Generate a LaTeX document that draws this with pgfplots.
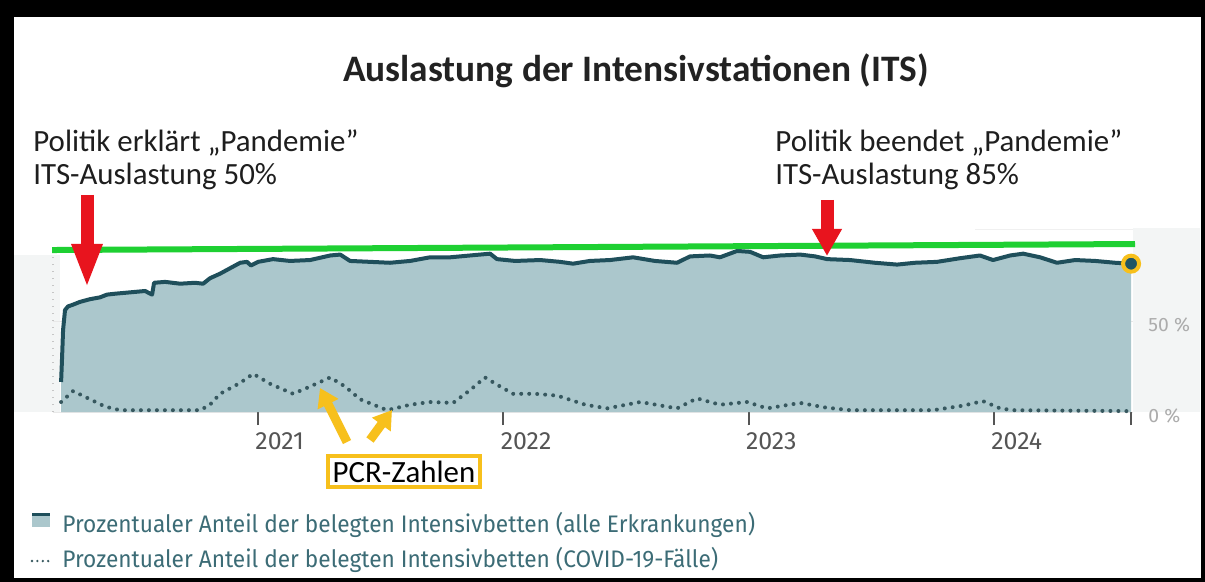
\documentclass[border=0pt]{standalone}
\usepackage{pgfplots}
\pgfplotsset{compat=1.18}
\usepackage{pgfplotstable}
\usepackage{graphicx}
\usetikzlibrary{arrows.meta}
\usepackage{fontspec}
\setmainfont{Carlito}
\newfontfamily\fira{Fira Sans}
\definecolor{areafill}{RGB}{171,199,204}
\definecolor{linecol}{RGB}{31,79,91}
\definecolor{dotcol}{RGB}{55,88,95}
\definecolor{greencol}{RGB}{30,208,50}
\definecolor{redcol}{RGB}{232,20,30}
\definecolor{yellowcol}{RGB}{247,192,28}
\definecolor{legtext}{RGB}{60,108,118}
\definecolor{xtickcol}{RGB}{85,85,85}
\definecolor{ytickcol}{RGB}{172,172,172}
\definecolor{bgcol}{RGB}{243,245,245}
\definecolor{enddot}{RGB}{31,85,101}

\pgfplotstableread{
x y
2020.197 16.5
2020.201 30
2020.205 45
2020.213 56
2020.225 58
2020.246 59
2020.274 60.5
2020.315 62
2020.356 63
2020.384 64.5
2020.417 65
2020.458 65.5
2020.499 66
2020.540 66.5
2020.560 65
2020.568 64.5
2020.576 71
2020.621 71.5
2020.682 70.5
2020.743 71
2020.776 70.5
2020.804 73.5
2020.845 76
2020.886 79
2020.927 82
2020.955 82.5
2020.971 80.5
2021.000 82.5
2021.061 84
2021.130 83
2021.212 83.5
2021.294 86
2021.335 86.5
2021.375 83
2021.457 82.5
2021.538 82
2021.620 83
2021.701 85
2021.783 85
2021.864 86
2021.946 87
2021.974 84
2022.048 83
2022.150 83.5
2022.231 82.5
2022.284 81.5
2022.353 83
2022.435 83.5
2022.529 85
2022.618 83
2022.708 82
2022.761 85.5
2022.842 86
2022.883 85
2022.953 88.5
2023.006 88
2023.059 85
2023.128 86
2023.210 86.5
2023.271 85.5
2023.320 84
2023.413 83.5
2023.515 82
2023.605 81
2023.678 82
2023.768 82.5
2023.862 84.5
2023.943 86
2023.996 83.5
2024.066 86
2024.119 87
2024.188 85
2024.257 82
2024.331 83.5
2024.413 83
2024.494 82
2024.559 81.5
}\alltab

\pgfplotstableread{
x y
2020.197 5.5
2020.246 11.5
2020.315 7
2020.376 3
2020.437 1
2020.764 1
2020.804 4
2020.845 10
2020.927 16
2020.980 21
2021.049 15.5
2021.143 10
2021.212 14
2021.294 19
2021.355 14
2021.416 7
2021.526 1
2021.620 4
2021.701 5.5
2021.795 5
2021.864 12
2021.925 19
2021.987 14
2022.040 10
2022.130 10
2022.220 9
2022.334 4
2022.423 2
2022.558 5.5
2022.708 2
2022.789 7.5
2022.883 4
2022.993 5.5
2023.075 2
2023.210 5
2023.312 2.5
2023.413 1
2023.752 1
2023.874 3.5
2023.955 6
2024.025 2
2024.078 1
2024.555 0.5
}\covtab

\begin{document}
\begin{tikzpicture}
\begin{scope}[x=0.5bp,y=-0.5bp]
\fill[black] (0,0) rectangle (1205,582);
\fill[white] (14,17) rectangle (1201,578);
\fill[bgcol] (14,255) rectangle (60,412);
\fill[bgcol] (1133,228) rectangle (1200,412);
\draw[gray!12, line width=0.5bp] (975,229) -- (1133,229);
\end{scope}
\begin{axis}[
  at={(26.5bp,-206bp)}, anchor=south west,
  scale only axis, width=540bp, height=91bp,
  xmin=2020.164, xmax=2024.567, ymin=0, ymax=100,
  clip=false,
  axis line style={draw=none},
  axis x line*=bottom, axis y line*=right,
  xtick={2021,2022,2023,2024},
  xticklabels={2021,2022,2023,2024},
  extra x ticks={2024.559}, extra x tick labels={},
  tick align=outside,
  x tick style={draw=xtickcol, line width=1bp},
  major tick length=6.5bp,
  x tick label style={anchor=north west, inner sep=0pt, font=\fira\fontsize{12.5}{14}\selectfont, text=xtickcol, xshift=-1.5bp, yshift=-3.5bp},
  ytick={0,50}, yticklabels={0 \%, 50 \%},
  y tick style={draw=none},
  yticklabel pos=right,
  y tick label style={anchor=west, inner sep=0pt, font=\fira\fontsize{9.7}{11}\selectfont, text=ytickcol, xshift=1bp, yshift=-2bp},
  ymajorgrids, grid style={draw=gray!18, line width=0.5bp},
]
\addplot[fill=areafill, draw=none] table {\alltab} \closedcycle;
\addplot[linecol, line width=2bp, line join=round] table {\alltab};
\addplot[dotcol, line width=2bp, line cap=round, dash pattern=on 0pt off 4bp] table {\covtab};
\draw[gray!45, line width=0.6bp, dash pattern=on 0.5bp off 3bp] (axis cs:2020.164,0) -- (axis cs:2020.164,86);
\addplot[greencol, line width=3bp] coordinates {(2020.160,89) (2024.575,92.3)};
\addplot[only marks, mark=*, mark size=4bp, mark options={fill=enddot, draw=yellowcol, line width=2bp}] coordinates {(2024.559,81.5)};
\end{axis}
\begin{scope}[x=0.5bp,y=-0.5bp]
% title
\node[anchor=base, inner sep=0pt, font=\bfseries\fontsize{18.75}{22}\selectfont, text={rgb,255:red,34;green,34;blue,34}] at (636,82) {Auslastung der Intensivstationen (ITS)};
% annotations
\node[anchor=base west, inner sep=0pt, font=\fontsize{15.5}{18}\selectfont, text={rgb,255:red,30;green,30;blue,30}] at (33,152) {Politik erklärt „Pandemie”};
\node[anchor=base west, inner sep=0pt, font=\fontsize{15.5}{18}\selectfont, text={rgb,255:red,30;green,30;blue,30}] at (33,184) {ITS-Auslastung 50\%};
\node[anchor=base west, inner sep=0pt, font=\fontsize{15.5}{18}\selectfont, text={rgb,255:red,30;green,30;blue,30}] at (775,152) {Politik beendet „Pandemie”};
\node[anchor=base west, inner sep=0pt, font=\fontsize{15.5}{18}\selectfont, text={rgb,255:red,30;green,30;blue,30}] at (775,184) {ITS-Auslastung 85\%};
% red arrows
\draw[redcol, line width=6.5bp, -{Triangle[length=22bp,width=14bp]}] (87,195) -- (87,288);
\draw[redcol, line width=6.5bp, -{Triangle[length=13.5bp,width=14bp]}] (827,200) -- (827,256);
% yellow arrows
\draw[yellowcol, line width=4.5bp, -{Triangle[length=9bp,width=11bp]}] (347,442) -- (320,388);
\draw[yellowcol, line width=4.5bp, -{Triangle[length=9bp,width=11bp]}] (370,440) -- (392,410);
% PCR box
\draw[yellowcol, line width=2bp, fill=white] (328,456) rectangle (480,487);
\node[inner sep=0pt, font=\fontsize{15.5}{17}\selectfont, text=black] at (404,471.5) {PCR-Zahlen};
% legend
\fill[areafill] (32,513) rectangle (50,527);
\draw[linecol, line width=1.5bp] (32,514) -- (50,514);
\draw[dotcol, line width=1.3bp, line cap=round, dash pattern=on 0pt off 2.7bp] (32,561) -- (50,561);
\node[anchor=base west, inner sep=0pt, font=\fira\fontsize{12}{14}\selectfont, text=legtext] at (62,532) {\scalebox{0.948}[1]{Prozentualer Anteil der belegten Intensivbetten (alle Erkrankungen)}};
\node[anchor=base west, inner sep=0pt, font=\fira\fontsize{12}{14}\selectfont, text=legtext] at (62,567) {\scalebox{0.948}[1]{Prozentualer Anteil der belegten Intensivbetten (COVID-19-Fälle)}};
\end{scope}
\end{tikzpicture}
\end{document}
